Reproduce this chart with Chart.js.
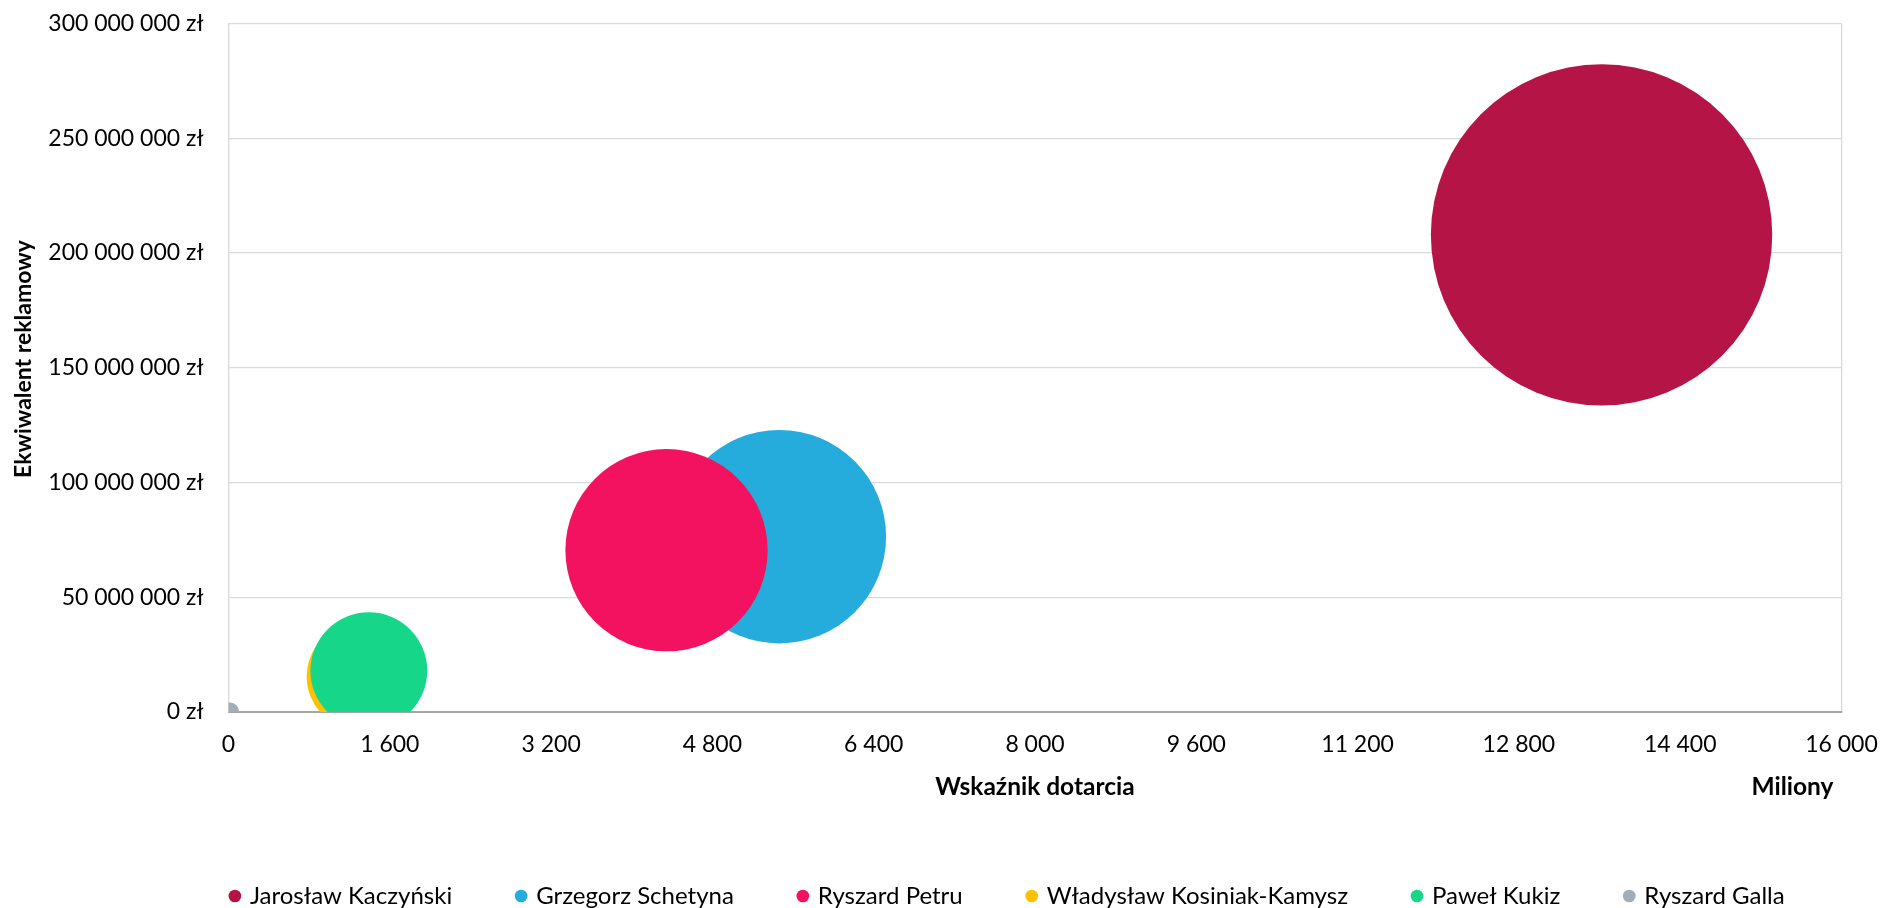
<!DOCTYPE html>
<html><head><meta charset="utf-8">
<script src="https://cdn.jsdelivr.net/npm/chart.js@4.4.1/dist/chart.umd.min.js"></script>
<style>html,body{margin:0;padding:0;background:#fff;overflow:hidden}
#wrap{position:relative;width:1881px;height:908px}
</style></head><body>
<div id="wrap"><canvas id="c" width="1881" height="908"></canvas></div>
<script>
// ---- data ----
const kandydaci = ['Jarosław Kaczyński', 'Grzegorz Schetyna', 'Ryszard Petru', 'Władysław Kosiniak-Kamysz', 'Paweł Kukiz', 'Ryszard Galla'];
const dotarcie = [13620, 5464, 4345, 1303, 1392, 15];            // Wskaźnik dotarcia (mln)
const ekwiwalent = [207900000, 76400000, 70500000, 15400000, 18000000, 200000]; // zł
const rozmiar = [100, 39.1, 35.1, 9.7, 11.7, 0.28];              // bubble size (area)
const kolory = ['#B41446', '#25ACDC', '#F2125F', '#FFC000', '#16D68A', '#A2ADB7'];
const xMin = 0, xMax = 16000, xStep = 1600;
const yMin = 0, yMax = 300000000, yStep = 50000000;
const xTitle = 'Wskaźnik dotarcia', yTitle = 'Ekwiwalent reklamowy', xUnit = 'Miliony';

const F = 'Lato';
const fmt = v => Math.round(v).toString().replace(/\B(?=(\d{3})+(?!\d))/g, ' ');
const maxR = 170.7, maxS = Math.max(...rozmiar);
const NONE = 'rgba(0,0,0,0)';

const datasets = kandydaci.map((k, i) => ({
  label: k,
  data: [{x: dotarcie[i], y: ekwiwalent[i], r: maxR * Math.sqrt(rozmiar[i] / maxS)}],
  backgroundColor: kolory[i], borderWidth: 0, order: kandydaci.length - i, clip: 0
}));

const extras = {
  id: 'extras',
  afterLayout(chart) {
    const lg = chart.legend;
    const shift = 1008.3 - (lg.left + lg.right) / 2;
    lg.left += shift; lg.right += shift;
  },
  afterDraw(chart) {
    const ctx = chart.ctx, a = chart.chartArea, xs = chart.scales.x;
    ctx.save();
    ctx.fillStyle = '#000';
    ctx.textBaseline = 'middle';
    ctx.font = 'bold 24.5px ' + F;
    ctx.textAlign = 'right';
    ctx.fillText(xUnit, a.right - 8, xs.bottom - 15.8 - 14.7);
    ctx.font = 'bold 23px ' + F;
    ctx.translate(24, (a.top + a.bottom) / 2 - 8.7);
    ctx.rotate(-Math.PI / 2);
    ctx.textAlign = 'center';
    ctx.fillText(yTitle, 0, 0);
    ctx.restore();
  }
};

new Chart(document.getElementById('c'), {
  type: 'bubble',
  data: {datasets},
  plugins: [extras],
  options: {
    responsive: false, animation: false, events: [], devicePixelRatio: 1,
    layout: {autoPadding: false, padding: {top: 23.5, right: 39.5, left: 0, bottom: 0}},
    scales: {
      x: {
        type: 'linear', min: xMin, max: xMax,
        ticks: {stepSize: xStep, padding: 0, color: '#000', font: {family: F, size: 23}, callback: v => fmt(v), maxRotation: 0, autoSkip: false},
        grid: {drawTicks: true, tickLength: 19, tickColor: NONE, lineWidth: 1.3, color: c => (c.tick && c.tick.value === xMax) ? '#d9d9d9' : NONE},
        border: {color: '#a6a6a6', width: 2},
        title: {display: true, text: xTitle, color: '#000', font: {family: F, size: 24.5, weight: 'bold'}, padding: {top: 0, bottom: 15.8}},
        afterFit: s => { s.height = 106; }
      },
      y: {
        type: 'linear', min: yMin, max: yMax,
        ticks: {stepSize: yStep, padding: 0, color: '#000', font: {family: F, size: 23}, callback: v => fmt(v) + ' zł'},
        grid: {drawTicks: true, tickLength: 25, tickColor: NONE, lineWidth: 1.3, color: '#d9d9d9'},
        border: {color: '#d9d9d9', width: 1.3},
        afterFit: s => { s.width = 228.5; }
      }
    },
    plugins: {
      legend: {
        position: 'bottom', maxHeight: 90,
        labels: {usePointStyle: true, boxWidth: 6, boxHeight: 9, padding: 66, color: '#000', font: {family: F, size: 24},
                 sort: (a, b) => a.datasetIndex - b.datasetIndex}
      },
      tooltip: {enabled: false}
    }
  }
});
</script>
</body></html>
